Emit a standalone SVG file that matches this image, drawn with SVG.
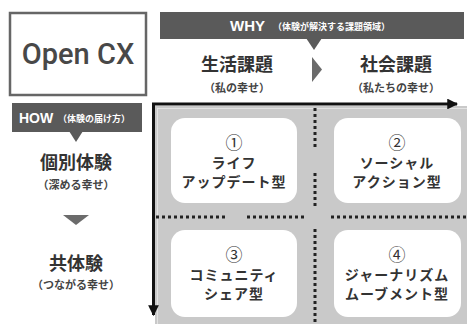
<svg xmlns="http://www.w3.org/2000/svg" width="467" height="324" viewBox="0 0 467 324">
<defs>
<style>
.jp{font-family:"Noto Sans CJK JP","Noto Sans",sans-serif;fill:#333;text-anchor:middle}
.h{font-size:18px;font-weight:700}
.s{font-size:11px;font-weight:700;fill:#444}
.c{font-size:14px;font-weight:700;letter-spacing:1px}
.n{font-size:17px;font-weight:400}
.ban{fill:#5a5a5a}
.tri{fill:#6b6b6b}
.card{fill:#fff}
.dot{stroke:#222;stroke-width:3;stroke-dasharray:3 3;fill:none}
.axis{stroke:#111;stroke-width:3;fill:none}
.bt{font-family:"Liberation Sans",Arial,sans-serif;font-weight:700;fill:#fff}
.bs{font-family:"Noto Sans CJK JP",sans-serif;font-size:9px;font-weight:700;fill:#fff}
</style>
<marker id="ah" viewBox="0 0 10 10" refX="9" refY="5" markerWidth="3.6" markerHeight="3.6" orient="auto" markerUnits="strokeWidth">
<path d="M0,0 L10,5 L0,10 Z" fill="#111"/>
</marker>
</defs>
<rect width="467" height="324" fill="#fff"/>

<g id="open-cx">
<rect x="10" y="13" width="136" height="82" fill="#fff" stroke="#666" stroke-width="2.5"/>
<text x="78" y="64" font-family="Roboto,'Liberation Sans',sans-serif" font-size="29" font-weight="500" fill="#484848" text-anchor="middle">Open CX</text>
</g>

<g id="why-banner">
<rect class="ban" x="160" y="12" width="304" height="27"/>
<polygon class="ban" points="306,38 322,38 314,50"/>
<text x="230" y="31" class="bt" font-size="15">WHY</text>
<text x="273" y="30" class="bs">（体験が解決する課題領域）</text>
</g>

<g id="col-1">
<text x="237" y="71" class="jp h">生活課題</text>
<text x="237" y="92" class="jp s">（私の幸せ）</text>
</g>
<g id="col-arrow"><polygon class="tri" points="312,57 322,69.5 312,82"/></g>
<g id="col-2">
<text x="396" y="71" class="jp h">社会課題</text>
<text x="396" y="92" class="jp s">（私たちの幸せ）</text>
</g>

<g id="how-banner">
<rect class="ban" x="12" y="103" width="130" height="29"/>
<polygon class="ban" points="69,131 83,131 76,142"/>
<text x="19" y="123" class="bt" font-size="14">HOW</text>
<text x="58" y="122" class="bs">（体験の届け方）</text>
</g>

<g id="row-1">
<text x="76" y="169" class="jp h">個別体験</text>
<text x="76" y="189" class="jp s">（深める幸せ）</text>
</g>
<g id="row-arrow"><polygon class="tri" points="63,215 89,215 76,225"/></g>
<g id="row-2">
<text x="76" y="270" class="jp h">共体験</text>
<text x="76" y="289" class="jp s">（つながる幸せ）</text>
</g>

<g id="panel">
<rect x="155" y="106" width="312" height="218" fill="#c9c9c9"/>
<rect x="157.5" y="108.5" width="312" height="218" fill="none" stroke="#e2e2e2" stroke-width="1"/>
</g>

<g id="connectors">
<path class="dot" d="M315,108 V150 M315,173 V206 M315,229 V324"/>
<path class="dot" d="M156,217 H228 M247,217 H305 M331,217 H467"/>
<path class="axis" d="M152,104 H457" marker-end="url(#ah)"/>
<path class="axis" d="M153.5,103 V315" marker-end="url(#ah)"/>
</g>

<g id="card-1">
<rect class="card" x="171" y="118" width="126" height="85" rx="14"/>
<text x="234" y="149" class="jp n">①</text>
<text x="234" y="168" class="jp c">ライフ</text>
<text x="234" y="187" class="jp c">アップデート型</text>
</g>
<g id="card-2">
<rect class="card" x="334" y="118" width="127" height="85" rx="14"/>
<text x="397" y="149" class="jp n">②</text>
<text x="397" y="168" class="jp c">ソーシャル</text>
<text x="397" y="187" class="jp c">アクション型</text>
</g>
<g id="card-3">
<rect class="card" x="171" y="230" width="126" height="87" rx="14"/>
<text x="234" y="261" class="jp n">③</text>
<text x="234" y="280" class="jp c">コミュニティ</text>
<text x="234" y="299" class="jp c">シェア型</text>
</g>
<g id="card-4">
<rect class="card" x="334" y="230" width="127" height="87" rx="14"/>
<text x="397" y="261" class="jp n">④</text>
<text x="397" y="280" class="jp c">ジャーナリズム</text>
<text x="397" y="299" class="jp c">ムーブメント型</text>
</g>
</svg>
